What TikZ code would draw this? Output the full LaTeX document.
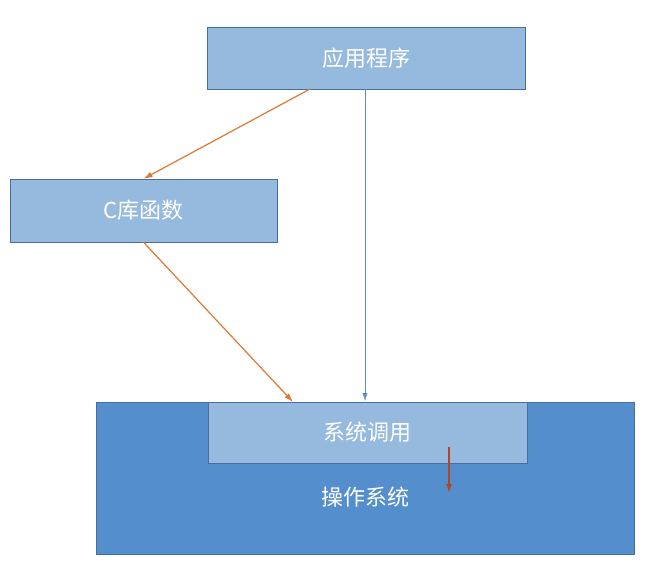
\documentclass[tikz,border=0pt]{standalone}
\usepackage{fontspec}
\newfontfamily\cjk{Noto Sans CJK SC}
\usetikzlibrary{arrows.meta}
\definecolor{lightbox}{RGB}{150,185,222}
\definecolor{darkbox}{RGB}{84,142,204}
\definecolor{boxline}{RGB}{70,110,160}
\definecolor{orangearrow}{RGB}{222,120,50}
\definecolor{redarrow}{RGB}{180,70,40}
\definecolor{bluearrow}{RGB}{90,140,200}
\begin{document}
\begin{tikzpicture}[x=1pt,y=-1pt,
    box/.style={draw=boxline, fill=lightbox, text=white, font=\cjk\fontsize{22}{26}\selectfont},
    call/.style={-{Latex[length=9pt,width=6pt]}, very thick, orangearrow}]

    \useasboundingbox (0,0) rectangle (645,570);

    % outer system
    \draw[draw=boxline, fill=darkbox] (96,402) rectangle (634,554);
    \node[text=white, font=\cjk\fontsize{22}{26}\selectfont] (os) at (365,497) {操作系统};

    \node[box, minimum width=318pt, minimum height=62pt] (app) at (366,58) {应用程序};
    \node[box, minimum width=267pt, minimum height=63pt] (clib) at (143.5,210.5) {C库函数};
    \node[box, minimum width=319pt, minimum height=61pt] (sys) at (367.5,432.5) {系统调用};

    \coordinate (a1) at (310,89);
    \coordinate (s1) at (293,402);
    \coordinate (s2) at (365,401);
    \coordinate (r1) at (449,447);
    \coordinate (r2) at (449,493);

    \draw[call] (a1) -- (clib.north);
    \draw[call] (clib.south) -- (s1);
    \draw[-{Latex[length=8pt,width=5pt]}, bluearrow] (app.south -| s2) -- (s2);
    \draw[-{Latex[length=9pt,width=6pt]}, very thick, redarrow] (r1) -- (r2);

\end{tikzpicture}
\end{document}
